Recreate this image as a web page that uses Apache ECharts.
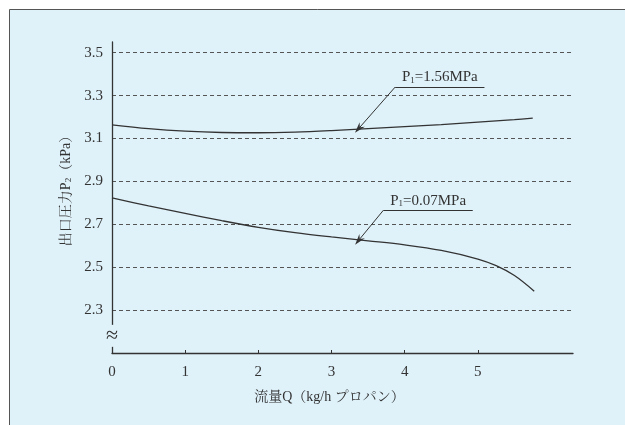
<!DOCTYPE html>
<html>
<head>
<meta charset="utf-8">
<script src="https://cdn.jsdelivr.net/npm/echarts@6/dist/echarts.min.js"></script>
<style>
html, body { margin: 0; padding: 0; background: #fff; }
#chart { width: 625px; height: 425px; }
</style>
</head>
<body>
<div id="chart"></div>
<script>
// 流量Q (kg/h)
const flowHigh = [0, 0.5, 1, 1.5, 2, 2.5, 3, 3.5, 4, 4.5, 5, 5.5, 5.75];
const p2High = [3.164, 3.146, 3.134, 3.128, 3.127, 3.130, 3.137, 3.146, 3.155, 3.165, 3.176, 3.188, 3.195];

const flowLow = [0, 0.5, 1, 1.5, 2, 2.5, 3, 3.5, 4, 4.5, 5, 5.25, 5.5, 5.77];
const p2Low = [2.823, 2.786, 2.751, 2.717, 2.686, 2.661, 2.641, 2.623, 2.604, 2.578, 2.538, 2.507, 2.461, 2.388];

const xLabels = [0, 1, 2, 3, 4, 5];
const xTicks = [1, 2, 3, 4, 5];
const yLabels = [2.3, 2.5, 2.7, 2.9, 3.1, 3.3, 3.5];

// 注記 (矢印の先, 折れ点, 下線の終点)
const noteHigh = { text: 'P{s|1}=1.56MPa', tip: [3.37, 3.146], elbow: [3.87, 3.34], end: [5.09, 3.34] };
const noteLow = { text: 'P{s|1}=0.07MPa', tip: [3.37, 2.625], elbow: [3.71, 2.766], end: [4.93, 2.766] };

const serif = "'Liberation Serif', 'Noto Serif CJK JP', 'Noto Sans CJK JP', serif";
const ink = '#333';
const panel = '#dff2fa';

function pairs(xs, ys) {
    return xs.map(function (x, i) { return [x, ys[i]]; });
}

function noteLine(note) {
    return {
        silent: true,
        animation: false,
        lineStyle: { color: ink, width: 1, type: 'solid' },
        label: { show: false },
        data: [
            [
                { coord: note.tip, symbol: 'path://M0,0 L5,12 L0,8 L-5,12 Z', symbolSize: [7, 11] },
                { coord: note.elbow, symbol: 'none' }
            ],
            [
                {
                    coord: note.elbow, symbol: 'none',
                    label: {
                        show: true,
                        position: 'insideMiddleTop',
                        distance: 2,
                        formatter: note.text,
                        fontFamily: serif,
                        fontSize: 15,
                        color: ink,
                        rich: { s: { fontFamily: serif, fontSize: 9, color: ink, verticalAlign: 'bottom', padding: [6, 0, 0, 0] } }
                    }
                },
                { coord: note.end, symbol: 'none' }
            ]
        ]
    };
}

function curve(xs, ys, note) {
    return {
        type: 'line',
        data: pairs(xs, ys),
        smooth: 0.35,
        showSymbol: false,
        lineStyle: { color: ink, width: 1.3 },
        markLine: noteLine(note)
    };
}

const chart = echarts.init(document.getElementById('chart'));
chart.setOption({
    backgroundColor: '#fff',
    animation: false,
    grid: { left: 112, right: 52, top: 42, bottom: 72 },
    xAxis: {
        type: 'value',
        min: 0,
        max: 6.3,
        name: '流量Q（kg/h プロパン）',
        nameLocation: 'middle',
        nameGap: 37,
        nameTextStyle: { fontFamily: serif, fontSize: 14, color: ink, padding: [0, 26, 0, 0] },
        axisLine: { lineStyle: { color: ink, width: 1.3 } },
        axisTick: { show: true, inside: true, length: 3, customValues: xTicks, lineStyle: { color: ink } },
        axisLabel: { customValues: xLabels, fontFamily: serif, fontSize: 15, color: ink, margin: 12 },
        splitLine: { show: false }
    },
    yAxis: {
        type: 'value',
        min: 2.1,
        max: 3.55,
        name: '出口圧力P{s|2}（kPa）',
        nameLocation: 'middle',
        nameRotate: 90,
        nameGap: 36,
        nameTextStyle: {
            fontFamily: serif, fontSize: 14, color: ink, padding: [0, 0, 0, 20],
            rich: { s: { fontFamily: serif, fontSize: 9, color: ink, verticalAlign: 'bottom', padding: [6, 0, 0, 0] } }
        },
        axisLine: { show: true, lineStyle: { color: ink, width: 1.3 } },
        axisTick: { show: false, customValues: yLabels },
        axisLabel: {
            customValues: yLabels, fontFamily: serif, fontSize: 15, color: ink, margin: 9,
            formatter: function (v) { return v.toFixed(1); }
        },
        splitLine: { show: true, lineStyle: { color: '#555', width: 1.2, type: [4, 3] } }
    },
    series: [
        curve(flowHigh, p2High, noteHigh),
        curve(flowLow, p2Low, noteLow)
    ]
});

// 枠と軸の省略記号
const brk = chart.convertToPixel({ gridIndex: 0 }, [0, 2.18]);
chart.setOption({
    graphic: [
        {
            type: 'rect', z: -10, silent: true,
            shape: { x: 9.5, y: 9.5, width: 700, height: 500 },
            style: { fill: panel, stroke: '#555', lineWidth: 1 }
        },
        {
            type: 'text', z: 100, silent: true,
            x: brk[0], y: brk[1],
            style: {
                text: '≈', fontFamily: serif, fontSize: 22, fill: ink,
                align: 'center', verticalAlign: 'middle', backgroundColor: panel
            }
        }
    ]
});
</script>
</body>
</html>
